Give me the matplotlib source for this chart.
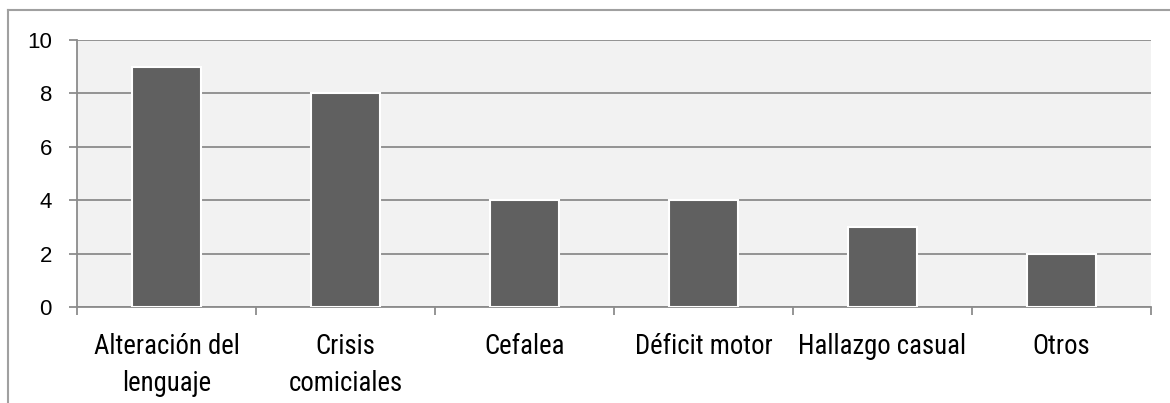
import matplotlib
matplotlib.use('Agg')
import matplotlib.pyplot as plt
from matplotlib.lines import Line2D

categories = ['Alteración del\nlenguaje', 'Crisis\ncomiciales', 'Cefalea',
              'Déficit motor', 'Hallazgo casual', 'Otros']
counts = [9, 8, 4, 4, 3, 2]
y_ticks = [0, 2, 4, 6, 8, 10]

plt.rcParams['font.family'] = ['Liberation Sans', 'DejaVu Sans']
narrow = ['Roboto Condensed', 'Archivo Narrow', 'PT Sans Narrow',
          'Fira Sans Condensed', 'Liberation Sans']

fig = plt.figure(figsize=(11.70, 4.03), dpi=100)
ax = fig.add_axes([0.0658, 0.2382, 0.918, 0.6625])

grid_color = '#8c8c8c'
ax.set_facecolor('#f2f2f2')
ax.set_axisbelow(True)
ax.yaxis.grid(True, color=grid_color, linewidth=1.3)

x = list(range(len(categories)))
ax.bar(x, counts, width=0.385, color='#606060', edgecolor='white', linewidth=1.5, zorder=3)

ax.set_xlim(-0.5, len(categories) - 0.5)
ax.set_ylim(0, 10)
ax.set_yticks(y_ticks)
ax.set_xticks(x)
ax.set_xticklabels(categories, fontsize=19.3, linespacing=1.45, family=narrow)
ax.tick_params(axis='x', length=0, pad=19)
ax.tick_params(axis='y', labelsize=16, length=6, width=1.3, color=grid_color, pad=12)

# category separator ticks between bars
ax.set_xticks([i - 0.5 for i in range(len(categories) + 1)], minor=True)
ax.tick_params(axis='x', which='minor', length=6, width=1.3, color=grid_color)

for side in ['top', 'right']:
    ax.spines[side].set_visible(False)
for side in ['left', 'bottom']:
    ax.spines[side].set_color(grid_color)
    ax.spines[side].set_linewidth(1.3)

# outer chart frame (top and left edges)
frame_color = '#a0a0a0'
fig.add_artist(Line2D([8 / 1170, 1.0], [1 - 10 / 403, 1 - 10 / 403],
                      transform=fig.transFigure, color=frame_color, linewidth=1.5))
fig.add_artist(Line2D([8 / 1170, 8 / 1170], [0.0, 1 - 10 / 403],
                      transform=fig.transFigure, color=frame_color, linewidth=1.5))

fig.savefig('out.png', dpi=100, facecolor='white')
